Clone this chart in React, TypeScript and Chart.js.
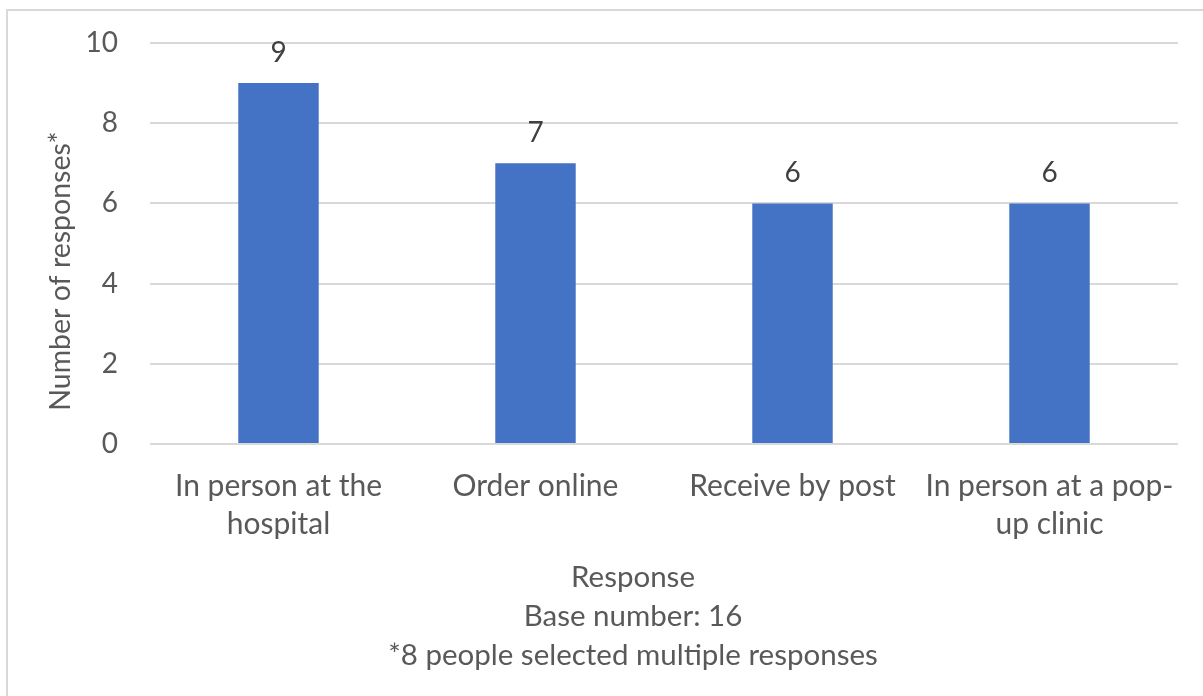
import React, { useEffect, useRef } from "react";
import { Chart, registerables } from "chart.js";

Chart.register(...registerables);

// Survey: how respondents would prefer to receive their item
const categories: string[][] = [
  ["In person at the", "hospital"],
  ["Order online"],
  ["Receive by post"],
  ["In person at a pop-", "up clinic"],
];
const responseCounts: number[] = [9, 7, 6, 6];
const yTicks: number[] = [0, 2, 4, 6, 8, 10];
const yTitle = "Number of responses*";
const xTitle: string[] = [
  "Response",
  "Base number: 16",
  "*8 people selected multiple responses",
];

const FONT = "Lato, 'Open Sans', sans-serif";
const TEXT = "#595959";
const LABEL = "#404040";
const GRID = "#d9d9d9";
const BAR = "#4472C4";

// Writes each bar's value centred above it
const valueLabels = {
  id: "valueLabels",
  afterDatasetsDraw(chart: Chart) {
    const { ctx } = chart;
    const meta = chart.getDatasetMeta(0);
    const data = chart.data.datasets[0].data as number[];
    ctx.save();
    ctx.font = `28px ${FONT}`;
    ctx.fillStyle = LABEL;
    ctx.textAlign = "center";
    ctx.textBaseline = "alphabetic";
    meta.data.forEach((bar: any, i: number) => {
      ctx.fillText(String(data[i]), bar.x, bar.y - 21);
    });
    ctx.restore();
  },
};

// Axis titles: the y title sits a little below the plot's middle,
// the x title block is centred under the whole chart box
const axisTitles = {
  id: "axisTitles",
  afterDraw(chart: Chart) {
    const { ctx } = chart;
    ctx.save();
    ctx.fillStyle = TEXT;
    ctx.textAlign = "center";

    ctx.font = `28.5px ${FONT}`;
    ctx.textBaseline = "alphabetic";
    ctx.translate(70, 271);
    ctx.rotate(-Math.PI / 2);
    ctx.fillText(yTitle, 0, 0);
    ctx.setTransform(1, 0, 0, 1, 0, 0);

    ctx.font = `29.5px ${FONT}`;
    ctx.textBaseline = "middle";
    const bottom = chart.chartArea.bottom;
    xTitle.forEach((line, i) => {
      ctx.fillText(line, 633, bottom + 133.5 + i * 39);
    });
    ctx.restore();
  },
};

export default function App() {
  const canvasRef = useRef<HTMLCanvasElement | null>(null);

  useEffect(() => {
    if (!canvasRef.current) return;
    const chart = new Chart(canvasRef.current, {
      type: "bar",
      data: {
        labels: categories,
        datasets: [
          {
            data: responseCounts,
            backgroundColor: BAR,
            borderWidth: 0,
            categoryPercentage: 1,
            barPercentage: 0.313,
          },
        ],
      },
      options: {
        responsive: false,
        animation: false,
        devicePixelRatio: 1,
        layout: { padding: { top: 43, right: 25, left: 0, bottom: 0 } },
        plugins: {
          legend: { display: false },
          tooltip: { enabled: false },
        },
        scales: {
          x: {
            grid: { display: false, drawTicks: false },
            border: { display: false },
            ticks: {
              color: TEXT,
              font: { family: FONT, size: 30, lineHeight: "38.5px" },
              padding: 23,
              maxRotation: 0,
              minRotation: 0,
              autoSkip: false,
            },
            afterFit(scale: any) {
              scale.height = 252;
            },
          },
          y: {
            min: 0,
            max: 10,
            afterBuildTicks(scale: any) {
              scale.ticks = yTicks.map((v) => ({ value: v }));
            },
            grid: { color: GRID, lineWidth: 2, drawTicks: false },
            border: { display: false },
            ticks: {
              color: TEXT,
              font: { family: FONT, size: 28 },
              padding: 32,
            },
            afterFit(scale: any) {
              scale.width = 150;
              scale.paddingTop = 0;
              scale.paddingBottom = 0;
            },
          },
        },
      },
      plugins: [valueLabels, axisTitles],
    });
    return () => chart.destroy();
  }, []);

  return (
    <div
      style={{
        position: "fixed",
        left: 0,
        top: 0,
        width: 1203,
        height: 696,
        overflow: "hidden",
        background: "#ffffff",
      }}
    >
      <div
        style={{
          position: "absolute",
          left: 6,
          top: 9,
          width: 1300,
          height: 800,
          border: `2px solid ${GRID}`,
        }}
      />
      <canvas
        ref={canvasRef}
        width={1203}
        height={696}
        style={{ position: "absolute", left: 0, top: 0 }}
      />
    </div>
  );
}
